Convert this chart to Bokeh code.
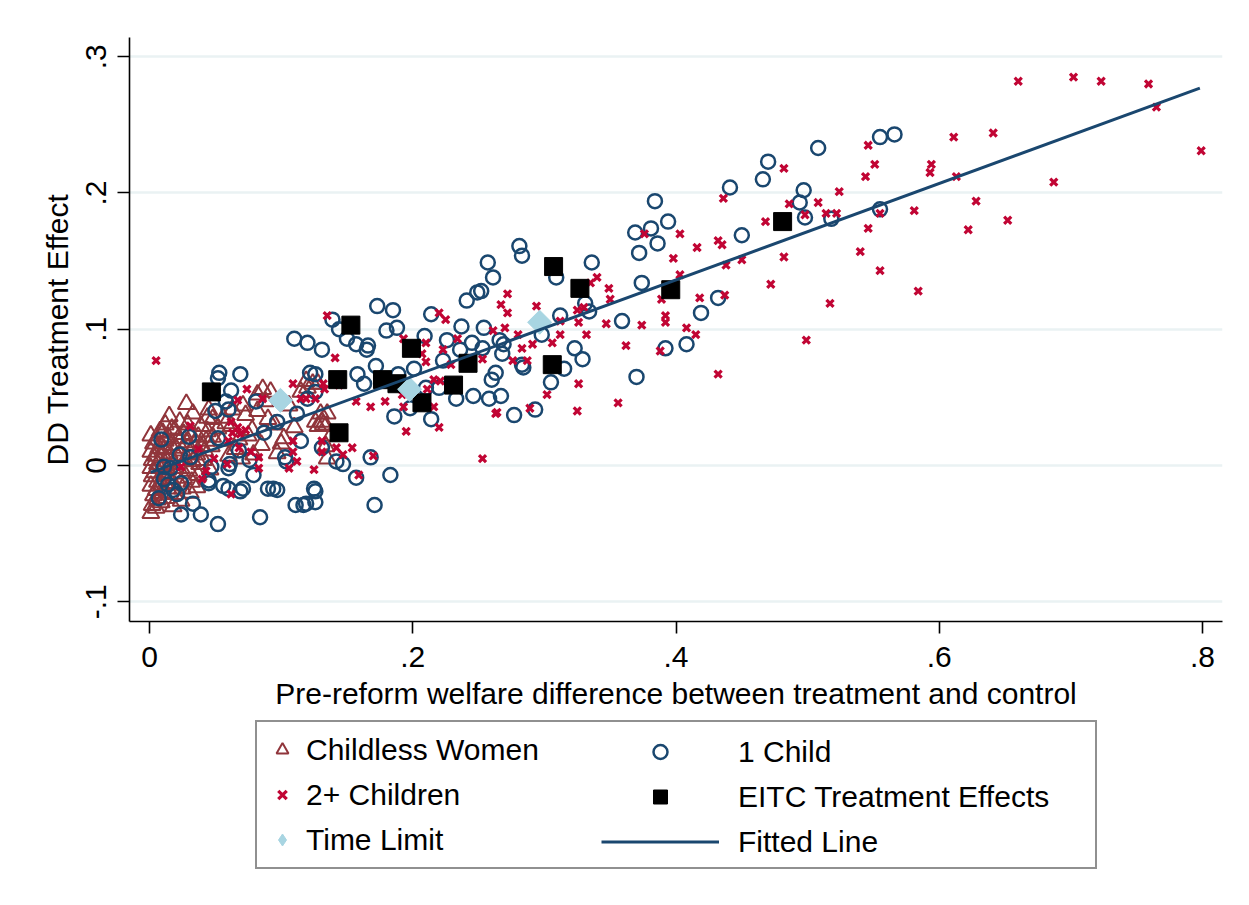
from bokeh.plotting import figure
from bokeh.layouts import column
from bokeh.models import Range1d, FixedTicker, Legend, LegendItem
from bokeh.embed import file_html
from bokeh.resources import INLINE

# Childless women
childless_x = [0.001, 0.002, 0.003, 0.001, 0.002, 0.001, 0.002, 0.001, 0.003, 0.001,
               0.005, 0.006, 0.005, 0.006, 0.004, 0.006, 0.005, 0.007, 0.006, 0.008,
               0.009, 0.010, 0.009, 0.011, 0.010, 0.009, 0.011, 0.012, 0.010, 0.012,
               0.013, 0.014, 0.015, 0.014, 0.013, 0.015, 0.016, 0.014, 0.017, 0.015,
               0.018, 0.019, 0.018, 0.020, 0.019, 0.021, 0.020, 0.022, 0.019, 0.023,
               0.024, 0.025, 0.026, 0.024, 0.027, 0.025, 0.028, 0.026, 0.029, 0.028,
               0.031, 0.032, 0.030, 0.033, 0.031, 0.034, 0.032, 0.033, 0.036, 0.037,
               0.038, 0.036, 0.039, 0.037, 0.039, 0.041, 0.042, 0.043, 0.044, 0.044,
               0.046, 0.047, 0.048, 0.048, 0.045, 0.052, 0.055, 0.058, 0.062, 0.065,
               0.070, 0.075, 0.079, 0.082, 0.082, 0.086, 0.088, 0.092, 0.095, 0.100,
               0.102, 0.106, 0.110, 0.115, 0.119, 0.120, 0.124, 0.128, 0.126, 0.128,
               0.130, 0.131, 0.134, 0.135, 0.132, 0.134, 0.135, 0.138,
               0.056, 0.063, 0.068, 0.073, 0.078, 0.085, 0.090, 0.097, 0.060, 0.071]
childless_y = [-0.035, -0.029, -0.022, -0.015, -0.008, -0.002, 0.004, 0.010, 0.016, 0.022,
               -0.031, -0.025, -0.018, -0.012, -0.005, 0.001, 0.007, 0.013, 0.019, 0.025,
               -0.027, -0.020, -0.014, -0.007, 0.000, 0.006, 0.012, 0.018, 0.024, 0.030,
               -0.024, -0.017, -0.010, -0.003, 0.003, 0.009, 0.015, 0.021, 0.027, 0.036,
               -0.030, -0.021, -0.013, -0.006, 0.001, 0.007, 0.013, 0.020, 0.026, 0.032,
               -0.026, -0.017, -0.009, -0.002, 0.004, 0.011, 0.017, 0.023, 0.030, 0.045,
               -0.020, -0.012, -0.004, 0.003, 0.009, 0.015, 0.022, 0.038, -0.016, -0.007,
               0.001, 0.008, 0.014, 0.021, 0.029, 0.004, 0.011, 0.018, 0.025, 0.035,
               -0.003, 0.014, 0.021, 0.034, 0.041, 0.027, 0.018, 0.031, 0.029, 0.012,
               0.005, 0.022, 0.008, 0.040, 0.052, 0.056, 0.047, 0.054, 0.030, 0.016,
               0.020, 0.044, 0.028, 0.054, 0.062, 0.057, 0.060, 0.060, 0.032, 0.029,
               0.038, 0.032, 0.029, 0.038, 0.030, 0.014, 0.005, 0.022,
               0.035, 0.041, 0.019, 0.037, 0.026, 0.015, 0.034, 0.009, 0.007, 0.044]

# One child
one_x = [0.555, 0.566, 0.508, 0.470, 0.466, 0.441, 0.497, 0.494, 0.498, 0.518,
         0.555, 0.450, 0.432, 0.419, 0.408, 0.384, 0.394, 0.381, 0.369, 0.386,
         0.372, 0.281, 0.283, 0.257, 0.261, 0.336, 0.309, 0.374, 0.252, 0.331,
         0.334, 0.312, 0.359, 0.254, 0.298, 0.266, 0.269, 0.253, 0.268, 0.323,
         0.329, 0.392, 0.283, 0.284, 0.315, 0.263, 0.260, 0.305, 0.370, 0.267,
         0.258, 0.293, 0.277,
         0.249, 0.241, 0.173, 0.185, 0.214, 0.139, 0.144, 0.188, 0.180, 0.150,
         0.120, 0.157, 0.166, 0.165, 0.209, 0.237, 0.226, 0.236, 0.245, 0.131,
         0.223, 0.172, 0.201, 0.158, 0.189, 0.122, 0.126, 0.163, 0.210, 0.220,
         0.233, 0.246, 0.126, 0.120, 0.198, 0.186, 0.214, 0.131, 0.115, 0.168,
         0.142, 0.147, 0.183, 0.157, 0.125, 0.126, 0.119, 0.126, 0.171,
         0.053, 0.052, 0.069, 0.062, 0.081, 0.058, 0.050, 0.060, 0.112, 0.097,
         0.087, 0.009, 0.030, 0.052, 0.023, 0.031, 0.061, 0.068, 0.047, 0.076,
         0.103, 0.104, 0.079, 0.045, 0.056, 0.060, 0.071, 0.069, 0.090, 0.094,
         0.097, 0.033, 0.039, 0.024, 0.052, 0.084, 0.111, 0.117, 0.016, 0.011,
         0.014, 0.007, 0.018, 0.021, 0.024, 0.011, 0.060, 0.045, 0.110]
one_y = [0.241, 0.243, 0.233, 0.223, 0.210, 0.204, 0.202, 0.193, 0.182, 0.181,
         0.188, 0.169, 0.123, 0.112, 0.089, 0.194, 0.179, 0.174, 0.171, 0.163,
         0.156, 0.161, 0.154, 0.149, 0.138, 0.149, 0.138, 0.134, 0.128, 0.119,
         0.113, 0.110, 0.106, 0.101, 0.096, 0.092, 0.089, 0.086, 0.082, 0.086,
         0.078, 0.086, 0.074, 0.072, 0.071, 0.068, 0.063, 0.061, 0.065, 0.051,
         0.049, 0.041, 0.037,
         0.127, 0.121, 0.117, 0.114, 0.111, 0.107, 0.100, 0.101, 0.099, 0.093,
         0.090, 0.089, 0.088, 0.085, 0.095, 0.102, 0.092, 0.085, 0.090, 0.085,
         0.077, 0.073, 0.071, 0.067, 0.067, 0.068, 0.067, 0.060, 0.057, 0.057,
         0.049, 0.051, 0.054, 0.049, 0.042, 0.036, 0.034, 0.013, 0.018, 0.006,
         0.003, 0.001, -0.007, -0.009, -0.017, -0.019, -0.028, -0.027, -0.029,
         0.068, 0.064, 0.067, 0.055, 0.047, 0.047, 0.040, 0.041, 0.038, 0.032,
         0.024, 0.019, 0.021, 0.020, 0.008, 0.006, 0.001, 0.011, -0.001, 0.004,
         0.006, 0.003, -0.007, -0.013, -0.015, -0.017, -0.017, -0.019, -0.017, -0.017,
         -0.018, -0.028, -0.036, -0.036, -0.043, -0.038, -0.029, -0.029, -0.002, -0.010,
         -0.014, -0.024, -0.018, -0.021, -0.013, -0.001, -0.002, -0.011, 0.093]

# Two or more children
two_x = [0.660, 0.702, 0.723, 0.759, 0.765, 0.611, 0.641, 0.594, 0.593, 0.613,
         0.687, 0.799, 0.581, 0.628, 0.652, 0.622, 0.584, 0.546, 0.551, 0.544,
         0.482, 0.436, 0.524, 0.508, 0.486, 0.514, 0.522, 0.498, 0.555, 0.468,
         0.546, 0.403, 0.432, 0.435, 0.416, 0.540, 0.482, 0.450, 0.438, 0.555,
         0.403, 0.472, 0.517, 0.418, 0.437, 0.408, 0.415, 0.499, 0.432, 0.376,
         0.398, 0.340, 0.335, 0.349, 0.350, 0.272, 0.267, 0.272, 0.294, 0.325,
         0.330, 0.326, 0.312, 0.347, 0.374, 0.389, 0.392, 0.392, 0.261, 0.270,
         0.280, 0.312, 0.332, 0.291, 0.283, 0.306, 0.362, 0.388, 0.253, 0.276,
         0.287, 0.326, 0.302, 0.356, 0.264, 0.289, 0.325, 0.253, 0.135, 0.220,
         0.225, 0.193, 0.210, 0.234, 0.223, 0.207, 0.210, 0.141, 0.229, 0.216,
         0.221, 0.211, 0.192, 0.179, 0.157, 0.168, 0.193, 0.216, 0.132, 0.133,
         0.126, 0.119, 0.144, 0.195, 0.220, 0.263, 0.131, 0.142, 0.154, 0.147,
         0.170, 0.125, 0.159, 0.005, 0.074, 0.067, 0.086, 0.109, 0.115, 0.062,
         0.067, 0.063, 0.073, 0.069, 0.031, 0.060, 0.068, 0.077, 0.083, 0.037,
         0.049, 0.059, 0.083, 0.040, 0.109, 0.109, 0.112, 0.106, 0.131, 0.062,
         0.024, 0.043]
two_y = [0.282, 0.285, 0.282, 0.280, 0.263, 0.241, 0.244, 0.221, 0.215, 0.212,
         0.208, 0.231, 0.187, 0.194, 0.180, 0.173, 0.128, 0.235, 0.221, 0.212,
         0.218, 0.196, 0.201, 0.193, 0.192, 0.185, 0.185, 0.184, 0.185, 0.179,
         0.174, 0.170, 0.165, 0.162, 0.160, 0.157, 0.153, 0.151, 0.147, 0.143,
         0.140, 0.133, 0.119, 0.123, 0.125, 0.101, 0.096, 0.092, 0.067, 0.170,
         0.152, 0.138, 0.134, 0.130, 0.122, 0.126, 0.118, 0.112, 0.117, 0.114,
         0.116, 0.105, 0.106, 0.104, 0.103, 0.122, 0.110, 0.105, 0.099, 0.101,
         0.096, 0.096, 0.096, 0.089, 0.086, 0.090, 0.088, 0.084, 0.078, 0.077,
         0.077, 0.060, 0.052, 0.046, 0.039, 0.042, 0.040, 0.005, 0.110, 0.112,
         0.107, 0.093, 0.090, 0.093, 0.085, 0.082, 0.076, 0.079, 0.074, 0.063,
         0.062, 0.056, 0.052, 0.047, 0.047, 0.043, 0.043, 0.043, 0.060, 0.056,
         0.049, 0.049, 0.059, 0.025, 0.028, 0.038, 0.018, 0.013, 0.013, 0.008,
         0.007, -0.003, -0.007, 0.077, 0.056, 0.048, 0.049, 0.060, 0.049, 0.032,
         0.028, 0.024, 0.026, 0.023, 0.029, 0.018, 0.013, 0.010, 0.006, 0.012,
         0.005, 0.001, -0.002, -0.010, 0.018, 0.010, 0.003, -0.002, 0.010, -0.021,
         -0.001, -0.004]

# EITC treatment effects
eitc_x = [0.047, 0.153, 0.199, 0.143, 0.177, 0.188, 0.207, 0.231, 0.242, 0.144,
          0.307, 0.327, 0.396, 0.306, 0.481]
eitc_y = [0.054, 0.103, 0.086, 0.063, 0.063, 0.060, 0.046, 0.059, 0.075, 0.024,
          0.146, 0.130, 0.129, 0.074, 0.179]

# Time limit
tl_x = [0.0995, 0.1976, 0.2964]
tl_y = [0.0478, 0.0559, 0.1051]

# Fitted line end points
fit_x = [0.001, 0.798]
fit_y = [-0.005, 0.277]

x_ticks = [0, 0.2, 0.4, 0.6, 0.8]
x_tick_labels = ["0", ".2", ".4", ".6", ".8"]
y_ticks = [-0.1, 0, 0.1, 0.2, 0.3]
y_tick_labels = ["-.1", "0", ".1", ".2", ".3"]

FONT = "Liberation Sans"
NAVY = "#1a476f"
MAROON = "#90353b"
CRANBERRY = "#c10534"
LIGHTBLUE = "#a8d5e2"
GRID = "#eaf2f3"

# style of each series, shared by the chart and its key
TRI_STYLE = dict(marker="triangle", size=17, fill_color=None, line_color=MAROON, line_width=2)
ONE_STYLE = dict(marker="circle", size=14, fill_color=None, line_color=NAVY, line_width=2.5)
TWO_STYLE = dict(marker="x", size=10, line_color=CRANBERRY, line_width=3.2)
EITC_STYLE = dict(marker="square", size=18, fill_color="black", line_color="black")
TL_STYLE = dict(marker="square", angle=0.7854, size=17, fill_color=LIGHTBLUE, line_color=LIGHTBLUE)
FIT_STYLE = dict(line_color=NAVY, line_width=3)

FRAME_LEFT = 129

p = figure(width=1249, height=722, frame_width=1093, frame_height=584,
           min_border_left=FRAME_LEFT, min_border_right=27, min_border_top=37,
           min_border_bottom=101,
           x_range=Range1d(-0.0152, 0.8152), y_range=Range1d(-0.1145, 0.3141),
           output_backend="svg", toolbar_location=None)
p.outline_line_color = None
p.background_fill_color = "white"
p.border_fill_color = "white"

p.xgrid.visible = False
p.ygrid.grid_line_color = GRID
p.ygrid.grid_line_width = 2.5

for ax in (p.xaxis[0], p.yaxis[0]):
    ax.axis_line_color = "black"
    ax.axis_line_width = 1.6
    ax.major_tick_line_color = "black"
    ax.major_tick_line_width = 1.6
    ax.major_tick_out = 12
    ax.major_tick_in = 0
    ax.minor_tick_out = 0
    ax.minor_tick_in = 0
    ax.major_label_text_font = FONT
    ax.major_label_text_font_size = "30px"
    ax.major_label_text_color = "black"
    ax.axis_label_text_font = FONT
    ax.axis_label_text_font_size = "30px"
    ax.axis_label_text_font_style = "normal"
    ax.axis_label_text_color = "black"

p.xaxis.ticker = FixedTicker(ticks=x_ticks)
p.xaxis.major_label_overrides = dict(zip(x_ticks, x_tick_labels))
p.yaxis.ticker = FixedTicker(ticks=y_ticks)
p.yaxis.major_label_overrides = dict(zip(y_ticks, y_tick_labels))
p.yaxis.major_label_orientation = "vertical"
p.xaxis.axis_label = "Pre-reform welfare difference between treatment and control"
p.yaxis.axis_label = "DD Treatment Effect"
p.xaxis.major_label_standoff = 13
p.xaxis.axis_label_standoff = 7
p.yaxis.major_label_standoff = 11
p.yaxis.axis_label_standoff = 10

p.scatter(childless_x, childless_y, **TRI_STYLE)
p.scatter(one_x, one_y, **ONE_STYLE)
p.scatter(two_x, two_y, **TWO_STYLE)
p.scatter(eitc_x, eitc_y, **EITC_STYLE)
p.scatter(tl_x, tl_y, **TL_STYLE)
p.line(fit_x, fit_y, **FIT_STYLE)

# key panel below the chart, pulled up 2px so that it covers the chart's lower edge;
# its renderers are hidden and only feed the key
k = figure(width=1249, height=185, min_border=0,
           min_border_left=FRAME_LEFT, min_border_right=27,
           x_range=Range1d(0, 1), y_range=Range1d(0, 1),
           x_axis_type=None, y_axis_type=None,
           output_backend="svg", toolbar_location=None)
k.margin = (-2, 0, 0, 0)
k.outline_line_color = None
k.grid.visible = False
k.border_fill_color = "white"
k.background_fill_color = "white"

k_tri = k.scatter(childless_x, childless_y, visible=False, **TRI_STYLE)
k_one = k.scatter(one_x, one_y, visible=False, **ONE_STYLE)
k_two = k.scatter(two_x, two_y, visible=False, **TWO_STYLE)
k_eitc = k.scatter(eitc_x, eitc_y, visible=False, **EITC_STYLE)
k_tl = k.scatter(tl_x, tl_y, visible=False, marker="diamond", size=17,
                 fill_color=LIGHTBLUE, line_color=LIGHTBLUE)
k_fit = k.line(fit_x, fit_y, visible=False, **FIT_STYLE)

legend_common = dict(
    label_text_font=FONT, label_text_font_size="30px", label_text_color="black",
    padding=10, spacing=10, glyph_height=35, label_height=35,
    inactive_fill_alpha=0,
)

# key box: left edge at x=255 on the page, bottom edge 36px above the panel bottom
legend_left = Legend(
    items=[LegendItem(label="Childless Women", renderers=[k_tri]),
           LegendItem(label="2+ Children", renderers=[k_two]),
           LegendItem(label="Time Limit", renderers=[k_tl])],
    location=(255 - FRAME_LEFT, 36), glyph_width=30, label_standoff=9, label_width=779,
    border_line_color="#222222", border_line_width=2,
    background_fill_color="white", **legend_common)
legend_right = Legend(
    items=[LegendItem(label="1 Child", renderers=[k_one]),
           LegendItem(label="EITC Treatment Effects", renderers=[k_eitc]),
           LegendItem(label="Fitted Line", renderers=[k_fit])],
    location=(601 - FRAME_LEFT, 46), glyph_width=118, label_standoff=19,
    border_line_color=None, background_fill_alpha=0, **legend_common)
k.add_layout(legend_left, "center")
k.add_layout(legend_right, "center")

page = column(p, k, spacing=0)
page.styles = {"background-color": "white"}

open("out.html", "w").write(file_html(page, INLINE))
